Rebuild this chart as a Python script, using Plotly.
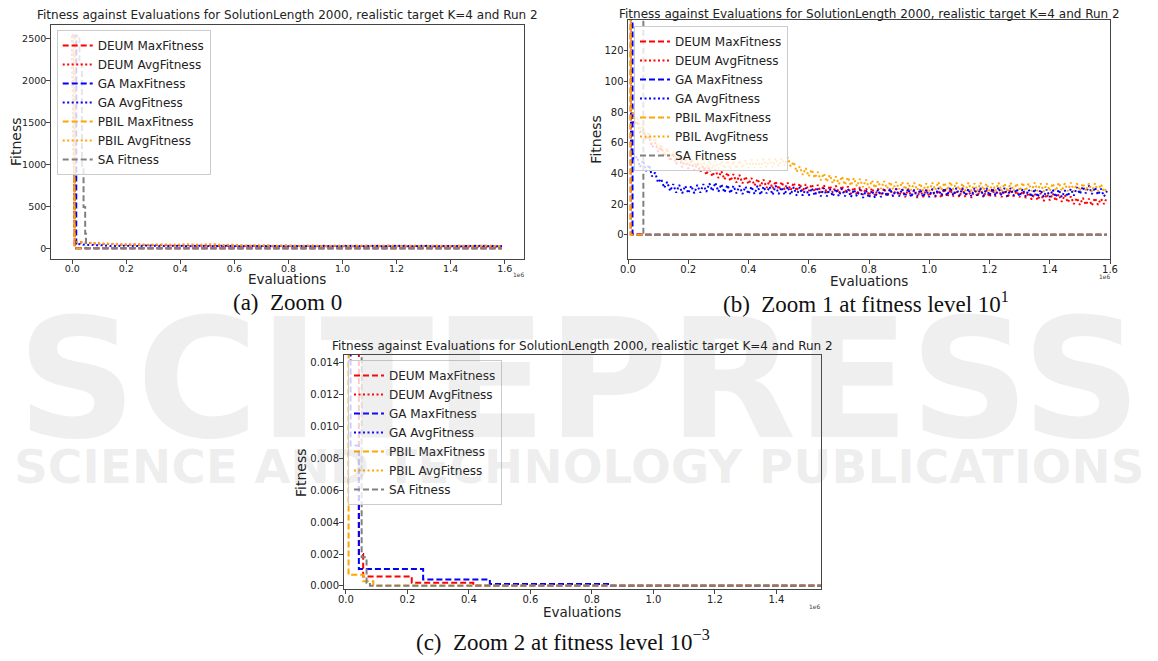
import plotly.graph_objects as go

W, H = 1158, 661
OFF = 8  # the page body margin shifts the figure; target pixel positions are corrected by this

# ---------------- data (evaluations in units of 1e6) ----------------
AVG_EVALS = [round(i * 0.01, 2) for i in range(160)]  # sample positions 0.00 ... 1.59

DEUM_AVG = [2535,
    80, 72, 74, 67, 69, 62, 64, 57, 60, 54,
    57, 51, 55, 48, 53, 46, 51, 44, 49, 43,
    48, 42, 46.5, 41, 45, 39, 44, 38, 42.5, 37,
    41.5, 36, 40.5, 35, 39.5, 34, 39, 33.5, 38, 33,
    37, 32, 36.5, 31.5, 36, 30.5, 35.5, 30, 35, 29.5,
    34.5, 29.5, 34, 29, 34, 28.5, 33.5, 28, 33, 28.5,
    33, 28, 32.5, 27.5, 32.5, 27, 32, 27.5, 32, 27,
    32, 27, 31.5, 26.5, 31, 26, 31, 26, 30.5, 25.5,
    30.5, 25.5, 30, 25.5, 30.5, 25, 30, 25, 30, 25.5,
    29.5, 24.5, 30, 25, 29, 24, 29.5, 24.5, 29.5, 25,
    29.5, 24.5, 29, 24, 30, 24.5, 29.5, 25, 29, 24.5,
    30, 24.5, 29.5, 24, 29, 25, 30, 24.5, 29, 24.5,
    29.5, 25, 30, 24.5, 29, 24, 29.5, 25, 28.5, 24.5,
    28.5, 24, 27.5, 23, 27, 22.5, 27, 22, 26.5, 22.5,
    27, 22, 26.5, 21.5, 26, 21, 25, 20, 24, 19.5,
    24, 19.5, 23.5, 19, 24, 19.5, 23.5, 20, 24.5]

GA_AVG = [2535,
    57, 49, 51, 44, 48.5, 41.5, 45.5, 38, 40.5, 34,
    36.5, 30.5, 34.5, 28.5, 33, 27.5, 32.5, 27, 32, 27,
    32, 27, 32.5, 27.5, 33, 28, 33.5, 28.5, 34, 28,
    33, 27.5, 32.5, 27, 32, 27, 32, 26.5, 31.5, 26.5,
    31.5, 26.5, 32, 26, 31.5, 27, 31.5, 26, 32, 26.5,
    31, 26, 31.5, 26, 31, 25.5, 31, 25.5, 30.5, 25.5,
    30.5, 25.5, 30, 25, 30.5, 25, 30, 25, 30, 25,
    30, 25, 30, 24.5, 29.5, 25, 29.5, 24, 29, 24,
    29, 24, 29.5, 24.5, 29.5, 25, 30, 25, 30, 25,
    30, 25, 30, 24.5, 29.5, 25, 29.5, 24.5, 29.5, 24.5,
    30, 25, 30.5, 25.5, 30.5, 25.5, 31, 25.5, 30.5, 25.5,
    30.5, 25.5, 30, 25, 30.5, 25.5, 30.5, 25, 30.5, 25.5,
    30.5, 25.5, 31, 25.5, 30.5, 25, 30.5, 25.5, 30, 25,
    30, 25, 29.5, 24.5, 30, 24.5, 29.5, 24.5, 29.5, 24.5,
    29.5, 24.5, 29.5, 24.5, 29, 25, 30, 25.5, 31, 26.5,
    31.5, 27, 32, 26.5, 31, 26, 30, 25, 28.5]

PBIL_AVG = [2535,
    84, 75, 77, 68.5, 71, 63.5, 67, 59.5, 63, 55.5,
    59, 52.5, 56.5, 50.5, 54, 48, 52.5, 46.5, 51, 45,
    50, 44.5, 49, 43.5, 49, 43, 48.5, 43, 48, 43,
    48, 43, 48.5, 42.5, 48, 43, 48.5, 43.5, 48.5, 43.5,
    49, 43.5, 49, 43.5, 49.5, 44, 49.5, 44, 50, 44.5,
    50, 45, 50.5, 44.5, 47.5, 41, 44.5, 39, 43.5, 38,
    42.5, 37, 41, 35.5, 40, 34.5, 39, 33.5, 38, 33,
    38, 32.5, 37.5, 32, 37, 31.5, 36.5, 31, 36, 30.5,
    35.5, 30.5, 35, 30, 35, 30, 34.5, 29.5, 34.5, 29.5,
    34.5, 29.5, 34, 29, 34, 29, 33.5, 28.5, 33.5, 28.5,
    34, 29, 34.5, 29, 34, 29, 34.5, 29.5, 34, 29,
    33.5, 28.5, 34, 28.5, 33.5, 28.5, 34, 29, 33.5, 28.5,
    33.5, 28.5, 34, 28.5, 33.5, 28, 34, 28.5, 33.5, 28.5,
    34, 28.5, 33.5, 28.5, 34, 28.5, 33.5, 28, 33.5, 28.5,
    33.5, 28.5, 34, 28.5, 33.5, 28.5, 34, 28.5, 33.5, 28.5,
    33.5, 28.5, 33.5, 28, 33.5, 28.5, 33, 28, 31]

DEUM_MAX_EVALS = [0, 0.009, 0.042, 0.056, 0.214, 0.414, 1.59]
DEUM_MAX = [2535, 0.35, 0.002, 0.0006, 0.0002, 0.00003, 0.00003]

GA_MAX_EVALS = [0, 0.015, 0.042, 0.251, 0.468, 0.858, 1.59]
GA_MAX = [2535, 0.0088, 0.00106, 0.0004, 0.000125, 0.00002, 0.00002]

PBIL_MAX_EVALS = [0, 0.0085, 0.056, 0.089, 1.59]
PBIL_MAX = [2535, 0.0007, 0.0003, 0.00003, 0.00003]

SA_EVALS = [0, 0.027, 0.036, 0.042, 0.048, 0.051, 0.067, 0.078, 1.59]
SA_FIT = [2535, 2200, 970, 493, 175, 0.0018, 0.0002, 0.00002, 0.00002]

X_TICKS = [0.0, 0.2, 0.4, 0.6, 0.8, 1.0, 1.2, 1.4, 1.6]
X_TICK_LABELS = ["0.0", "0.2", "0.4", "0.6", "0.8", "1.0", "1.2", "1.4", "1.6"]
Y_TICKS_A = [0, 500, 1000, 1500, 2000, 2500]
Y_TICKS_B = [0, 20, 40, 60, 80, 100, 120]
Y_TICKS_C = [0, 0.002, 0.004, 0.006, 0.008, 0.010, 0.012, 0.014]
Y_TICK_LABELS_C = ["0.000", "0.002", "0.004", "0.006", "0.008", "0.010", "0.012", "0.014"]

TITLE = "Fitness against Evaluations for SolutionLength 2000, realistic target K=4 and Run 2"
CAPTIONS = ["(a)\u2002Zoom 0",
            "(b)\u2002Zoom 1 at fitness level 10<sup>1</sup>",
            "(c)\u2002Zoom 2 at fitness level 10<sup>\u22123</sup>"]

# ---------------- styling ----------------
DASH = "6px,3px"
DOT = "2px,2.5px"
SERIES = [
    ("DEUM MaxFitness", DEUM_MAX_EVALS, DEUM_MAX, "red", DASH, "hv", 2),
    ("DEUM AvgFitness", AVG_EVALS, DEUM_AVG, "red", DOT, "linear", 2),
    ("GA MaxFitness", GA_MAX_EVALS, GA_MAX, "blue", DASH, "hv", 2),
    ("GA AvgFitness", AVG_EVALS, GA_AVG, "blue", DOT, "linear", 2),
    ("PBIL MaxFitness", PBIL_MAX_EVALS, PBIL_MAX, "orange", DASH, "hv", 2),
    ("PBIL AvgFitness", AVG_EVALS, PBIL_AVG, "orange", DOT, "linear", 2),
    ("SA Fitness", SA_EVALS, SA_FIT, "grey", DASH, "hv", 2),
]

FONT = "DejaVu Sans"

# panel geometry in target pixels: left, right, top, bottom
PANELS = [
    dict(box=(50.7, 523.5, 25, 259), xr=[-0.0795, 1.6695], yr=[-126.75, 2661.75],
         yt=Y_TICKS_A, ytl=[str(v) for v in Y_TICKS_A], tick=9.5,
         title_y=15, ylab_x=16, xlab_y=279, e6=(519, 275), legend=(56.7, 30),
         cap=(287, 303)),
    dict(box=(628, 1110, 20, 259.3), xr=[0, 1.6], yr=[-16, 140],
         yt=Y_TICKS_B, ytl=[str(v) for v in Y_TICKS_B], tick=10,
         title_y=14.5, ylab_x=596, xlab_y=281, e6=(1105, 276), legend=(634, 26),
         cap=(866, 303)),
    dict(box=(343.5, 821, 355, 589), xr=[-0.008, 1.545], yr=[-0.00019, 0.01446],
         yt=Y_TICKS_C, ytl=Y_TICK_LABELS_C, tick=10,
         title_y=346, ylab_x=301, xlab_y=612, e6=(815, 606), legend=(348, 360),
         cap=(563, 640)),
]


def px_x(v):
    return (v - OFF) / W


def px_y(v):
    return 1 - (v - OFF) / H


fig = go.Figure()
layout = dict(width=W, height=H, margin=dict(l=0, r=0, t=0, b=0, autoexpand=False),
              paper_bgcolor="white", plot_bgcolor="white",
              font=dict(family=FONT, color="#222"), annotations=[])

ann = layout["annotations"]
# faint publisher watermark
ann.append(dict(text="<b>SCITEPRESS</b>", x=px_x(579), y=px_y(380), xref="paper", yref="paper",
                showarrow=False, font=dict(family=FONT, size=166, color="rgba(120,120,120,0.12)"),
                xanchor="center", yanchor="middle"))
ann.append(dict(text="<b>SCIENCE AND TECHNOLOGY PUBLICATIONS</b>", x=px_x(579), y=px_y(466),
                xref="paper", yref="paper", showarrow=False,
                font=dict(family=FONT, size=47, color="rgba(120,120,120,0.12)"),
                xanchor="center", yanchor="middle"))

for k, p in enumerate(PANELS, start=1):
    sfx = "" if k == 1 else str(k)
    l, r, t, b = p["box"]
    axis_style = dict(showline=True, mirror=True, linecolor="#444", linewidth=1,
                      ticks="outside", ticklen=3.5, tickcolor="#444", showgrid=False,
                      zeroline=False, automargin=False,
                      tickfont=dict(family=FONT, size=p["tick"], color="#222"))
    layout["xaxis" + sfx] = dict(domain=[px_x(l), px_x(r)], range=p["xr"],
                                 anchor="y" + sfx, tickmode="array", tickvals=X_TICKS,
                                 ticktext=X_TICK_LABELS, ticklabelstandoff=-3, **axis_style)
    layout["yaxis" + sfx] = dict(domain=[px_y(b), px_y(t)], range=p["yr"],
                                 anchor="x" + sfx, tickmode="array", tickvals=p["yt"],
                                 ticktext=p["ytl"], ticklabelstandoff=-2, **axis_style)
    lx, ly = p["legend"]
    layout["legend" + sfx] = dict(x=px_x(lx), y=px_y(ly), xanchor="left", yanchor="top",
                                  xref="paper", yref="paper",
                                  bgcolor="rgba(255,255,255,0.8)", bordercolor="#cccccc",
                                  borderwidth=1, font=dict(family=FONT, size=12, color="#222"),
                                  itemwidth=30, tracegroupgap=0)
    for name, xs, ys, color, dash, shape, lw in SERIES:
        fig.add_trace(go.Scatter(x=xs, y=ys, name=name, mode="lines",
                                 line=dict(color=color, dash=dash, width=lw, shape=shape),
                                 xaxis="x" + sfx, yaxis="y" + sfx, legend="legend" + sfx,
                                 hoverinfo="skip"))
    cx = (l + r) / 2
    ann.append(dict(text=TITLE, x=px_x(cx), y=px_y(p["title_y"]), xref="paper", yref="paper",
                    showarrow=False, font=dict(family=FONT, size=12, color="#222"),
                    xanchor="center", yanchor="middle"))
    ann.append(dict(text="Fitness", x=px_x(p["ylab_x"]), y=px_y((t + b) / 2), xref="paper",
                    yref="paper", showarrow=False, textangle=-90,
                    font=dict(family=FONT, size=14, color="#222"),
                    xanchor="center", yanchor="middle"))
    ann.append(dict(text="Evaluations", x=px_x(cx), y=px_y(p["xlab_y"]), xref="paper",
                    yref="paper", showarrow=False,
                    font=dict(family=FONT, size=13.5, color="#222"),
                    xanchor="center", yanchor="middle"))
    ex, ey = p["e6"]
    ann.append(dict(text="1e6", x=px_x(ex), y=px_y(ey), xref="paper", yref="paper",
                    showarrow=False, font=dict(family=FONT, size=6, color="#444"),
                    xanchor="center", yanchor="middle"))
    capx, capy = p["cap"]
    ann.append(dict(text=CAPTIONS[k - 1], x=px_x(capx), y=px_y(capy), xref="paper",
                    yref="paper", showarrow=False,
                    font=dict(family="Liberation Serif", size=23, color="#111"),
                    xanchor="center", yanchor="middle"))

fig.update_layout(**layout)
fig.write_html("out.html")
